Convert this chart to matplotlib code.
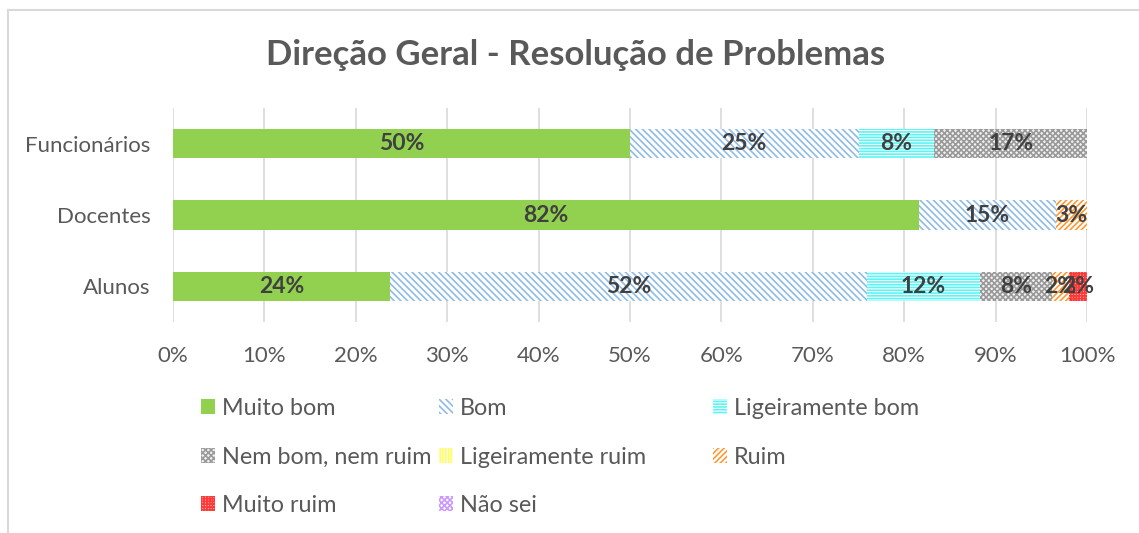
import matplotlib.pyplot as plt
from matplotlib.lines import Line2D
from matplotlib.patches import Rectangle

plt.rcParams['font.family'] = ['Lato', 'DejaVu Sans']
plt.rcParams['hatch.linewidth'] = 1.2

title = 'Direção Geral - Resolução de Problemas'
groups = ['Alunos', 'Docentes', 'Funcionários']
categories = ['Muito bom', 'Bom', 'Ligeiramente bom', 'Nem bom, nem ruim',
              'Ligeiramente ruim', 'Ruim', 'Muito ruim', 'Não sei']

# percent per category, in order Alunos, Docentes, Funcionários
muito_bom = [23.7, 81.6, 50.0]
bom = [52.2, 15.0, 25.0]
lig_bom = [12.4, 0.0, 8.3]
nem_bom = [7.9, 0.0, 16.7]
lig_ruim = [0.0, 0.0, 0.0]
ruim = [1.8, 3.4, 0.0]
muito_ruim = [2.0, 0.0, 0.0]
nao_sei = [0.0, 0.0, 0.0]
series = [muito_bom, bom, lig_bom, nem_bom, lig_ruim, ruim, muito_ruim, nao_sei]

xticks = [0, 10, 20, 30, 40, 50, 60, 70, 80, 90, 100]

# (facecolor, hatch colour, hatch)
STYLES = [
    ('#92D050', '#92D050', None),
    ('white', '#8FBCE6', '\\\\\\\\\\'),
    ('white', '#5CF5F5', '------'),
    ('#f2f2f2', '#9a9a9a', 'xxxxxx'),
    ('white', '#FFFF55', '||||||'),
    ('white', '#FF9933', '//////'),
    ('#FFC0C0', '#FF3838', '++++++'),
    ('white', '#CC99FF', 'xxxxxx'),
]

TEXT = '#595959'

fig = plt.figure(figsize=(11.39, 5.33), dpi=100)
ax = fig.add_axes([173 / 1139, 1 - 322 / 533, 914 / 1139, 214 / 533])

ypos = list(range(len(groups)))
left = [0.0] * len(groups)
handles = []
for name, vals, (fc, hc, hatch) in zip(categories, series, STYLES):
    bars = ax.barh(ypos, vals, left=left, height=0.41, color=fc,
                   edgecolor=hc, linewidth=0, hatch=hatch, label=name, zorder=2)
    for b, v in zip(bars, vals):
        if v > 0:
            ax.text(b.get_x() + b.get_width() / 2, b.get_y() + b.get_height() / 2,
                    '{:.0f}%'.format(v), ha='center', va='center',
                    fontsize=16.5, fontweight='bold', color='#404040', zorder=3)
    left = [l + v for l, v in zip(left, vals)]
    handles.append(Rectangle((0, 0), 1, 1, facecolor=fc, edgecolor=hc,
                             linewidth=0, hatch=hatch))

ax.set_xlim(0, 100)
ax.set_ylim(-0.5, len(groups) - 0.5)
ax.set_xticks(xticks)
ax.set_xticklabels(['{}%'.format(t) for t in xticks])
ax.set_yticks(ypos)
ax.set_yticklabels(groups)
ax.tick_params(length=0, labelsize=16, labelcolor=TEXT)
ax.tick_params(axis='x', pad=17)
ax.tick_params(axis='y', pad=16)
ax.grid(axis='x', color='#d9d9d9', linewidth=1.2, zorder=0)
ax.set_axisbelow(True)
for s in ax.spines.values():
    s.set_visible(False)

fig.text(576 / 1139, 1 - 55 / 533, title, ha='center', va='center',
         fontsize=25, fontweight='bold', color=TEXT)

# legend laid out row by row, three columns placed like the original
col_x = [201, 439, 713]
for c, x in enumerate(col_x):
    idx = list(range(c, len(categories), 3))
    fig.legend([handles[i] for i in idx], [categories[i] for i in idx],
               loc='upper left', bbox_to_anchor=(x / 1139, 1 - 398 / 533),
               frameon=False, fontsize=16.8, labelcolor=TEXT,
               handlelength=0.6, handleheight=0.6, handletextpad=0.3,
               labelspacing=1.18, borderpad=0, borderaxespad=0)

# outer frame (only top and left visible in the original)
fig.add_artist(Line2D([8 / 1139, 1], [1 - 10 / 533] * 2, color='#d9d9d9', lw=1.5))
fig.add_artist(Line2D([8 / 1139] * 2, [0, 1 - 10 / 533], color='#d9d9d9', lw=1.5))

fig.savefig('out.png', dpi=100)
